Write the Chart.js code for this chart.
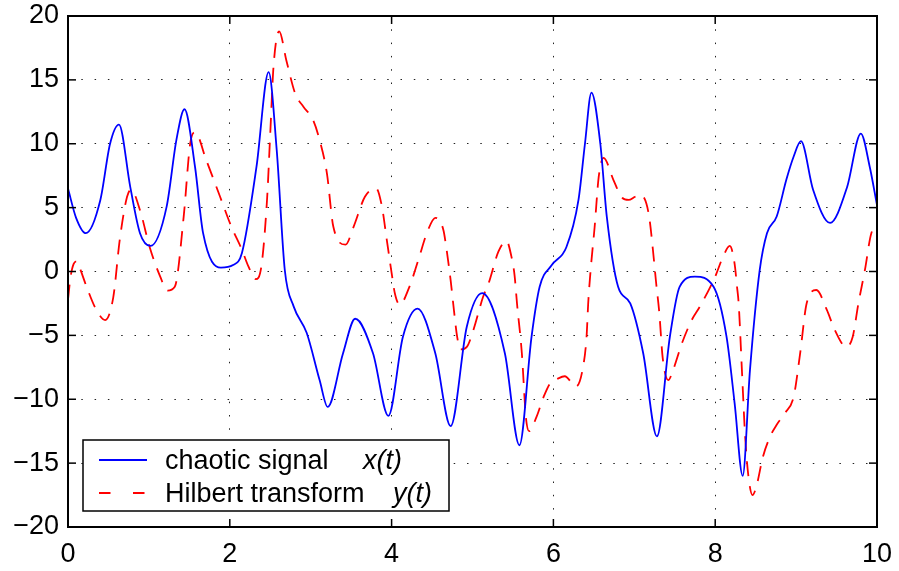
<!DOCTYPE html>
<html>
<head>
<meta charset="utf-8">
<script src="https://cdn.jsdelivr.net/npm/chart.js@4.4.1/dist/chart.umd.min.js"></script>
<style>
    html, body { margin: 0; padding: 0; background: #fff; }
    #wrap { width: 899px; height: 571px; }
</style>
</head>
<body>
<div id="wrap"><canvas id="signalChart" width="899" height="571"></canvas></div>
<script>
// ============================================
// CHAOTIC SIGNAL + HILBERT TRANSFORM
// ============================================

const xTicks = [0, 2, 4, 6, 8, 10];
const yTicks = [-20, -15, -10, -5, 0, 5, 10, 15, 20];

// chaotic signal x(t)
const signalTimes = [0, 0.1, 0.22, 0.4, 0.52, 0.63, 0.77, 0.89, 1.02, 1.22, 1.34, 1.44, 1.57, 1.67, 1.89, 2.04, 2.15, 2.33, 2.48, 2.58, 2.68, 2.79, 2.95, 3.11, 3.21, 3.4, 3.55, 3.77, 3.96, 4.14, 4.32, 4.54, 4.73, 4.93, 5.12, 5.4, 5.58, 5.73, 5.83, 5.98, 6.16, 6.31, 6.39, 6.47, 6.58, 6.66, 6.8, 6.95, 7.11, 7.28, 7.44, 7.56, 7.75, 7.98, 8.14, 8.24, 8.34, 8.43, 8.55, 8.64, 8.76, 8.88, 8.97, 9.06, 9.21, 9.42, 9.63, 9.8, 9.91, 10];
const signalValues = [6.5, 4.2, 3.0, 5.6, 10.0, 11.5, 6.6, 3.0, 2.0, 5.1, 10.3, 12.7, 8.2, 3.0, 0.3, 0.5, 1.45, 8.2, 15.6, 9.5, 0.1, -2.75, -4.8, -8.5, -10.6, -6.4, -3.7, -6.4, -11.3, -5.1, -2.9, -6.4, -12.1, -4.3, -1.7, -6.4, -13.6, -5.1, -1.2, 0.5, 1.9, 5.6, 10.0, 14.0, 10.0, 4.3, -1.2, -2.5, -6.4, -12.9, -5.1, -1.2, -0.4, -1.2, -5.1, -10.3, -16.0, -7.7, 0.1, 3.0, 4.3, 7.2, 9.0, 10.2, 6.4, 3.8, 6.6, 10.8, 8.2, 5.2];

// Hilbert transform y(t)
const hilbertTimes = [0, 0.03, 0.07, 0.11, 0.15, 0.23, 0.35, 0.46, 0.56, 0.64, 0.73, 0.78, 0.89, 1.01, 1.14, 1.23, 1.32, 1.43, 1.51, 1.57, 1.71, 1.88, 2.02, 2.15, 2.23, 2.32, 2.39, 2.46, 2.5, 2.54, 2.61, 2.7, 2.81, 2.91, 3.03, 3.11, 3.2, 3.28, 3.43, 3.53, 3.67, 3.81, 3.88, 3.94, 4.0, 4.04, 4.1, 4.22, 4.33, 4.45, 4.54, 4.64, 4.68, 4.73, 4.77, 4.81, 4.85, 4.93, 5.01, 5.13, 5.2, 5.32, 5.42, 5.48, 5.52, 5.55, 5.61, 5.66, 5.7, 5.79, 5.88, 5.96, 6.05, 6.14, 6.28, 6.36, 6.41, 6.43, 6.46, 6.51, 6.56, 6.62, 6.74, 6.84, 6.93, 7.01, 7.08, 7.15, 7.19, 7.23, 7.27, 7.31, 7.35, 7.42, 7.48, 7.59, 7.71, 7.81, 7.94, 8.0, 8.1, 8.18, 8.24, 8.27, 8.29, 8.33, 8.37, 8.41, 8.46, 8.51, 8.59, 8.68, 8.76, 8.86, 8.97, 9.05, 9.13, 9.25, 9.38, 9.48, 9.62, 9.7, 9.77, 9.85, 9.93, 10];
const hilbertValues = [-2.2, -0.5, 0.6, 0.8, 0.2, -1.2, -3.0, -3.8, -2.0, 2.5, 5.85, 6.4, 4.8, 1.9, -0.4, -1.5, -1.2, 4.3, 10.0, 10.9, 8.7, 5.85, 3.5, 1.7, 0.4, -0.6, 0.4, 5.6, 10.8, 16.0, 18.8, 16.5, 13.9, 12.9, 11.85, 10.3, 7.7, 3.5, 2.1, 3.5, 5.85, 6.5, 5.1, 2.5, -0.1, -1.7, -2.6, -1.2, 0.9, 3.25, 4.2, 3.25, 1.7, -0.7, -3.0, -5.1, -6.1, -5.9, -4.6, -2.0, -0.9, 1.55, 2.4, 1.2, -0.3, -2.5, -6.4, -11.4, -12.5, -11.4, -9.8, -8.75, -8.4, -8.2, -9.0, -7.7, -5.1, -2.5, 0.1, 3.5, 7.4, 8.9, 7.2, 5.85, 5.6, 5.85, 6.0, 5.3, 4.0, 1.7, -0.9, -3.3, -6.7, -8.5, -7.7, -5.6, -3.8, -2.75, -1.2, -0.4, 1.2, 2.0, 0.6, -1.2, -2.5, -7.7, -12.9, -16.0, -17.5, -16.8, -14.5, -12.9, -12.0, -11.1, -9.8, -6.4, -2.5, -1.45, -3.0, -4.6, -5.9, -5.1, -2.5, 0.1, 3.0, 3.5];

const FONT = "'Liberation Sans', Arial, Helvetica, sans-serif";

const toPoints = (times, values) => times.map((t, i) => ({ x: t, y: values[i] }));

// frame with inward ticks + boxed legend, like matlab
const framePlugin = {
    id: 'frame',
    afterDraw(chart) {
        const { ctx, chartArea: a, scales } = chart;
        ctx.save();
        ctx.strokeStyle = '#000';
        ctx.lineWidth = 1.5;
        ctx.setLineDash([]);

        const seg = (x1, y1, x2, y2) => { ctx.beginPath(); ctx.moveTo(x1, y1); ctx.lineTo(x2, y2); ctx.stroke(); };

        xTicks.forEach(v => {
            const px = scales.x.getPixelForValue(v);
            seg(px, a.bottom, px, a.bottom - 8);
            seg(px, a.top, px, a.top + 8);
        });
        yTicks.forEach(v => {
            const py = scales.y.getPixelForValue(v);
            seg(a.left, py, a.left + 8, py);
            seg(a.right, py, a.right - 8, py);
        });
        ctx.lineWidth = 2;
        ctx.strokeRect(a.left, a.top, a.right - a.left, a.bottom - a.top);

        // legend box
        const bx = a.left + 15, by = a.bottom - 87, bw = 366, bh = 71;
        ctx.fillStyle = '#fff';
        ctx.fillRect(bx, by, bw, bh);
        ctx.lineWidth = 1.5;
        ctx.strokeRect(bx, by, bw, bh);

        ctx.lineWidth = 1.8;
        ctx.strokeStyle = '#0000ff';
        seg(bx + 16, by + 20, bx + 64, by + 20);
        ctx.strokeStyle = '#ff0000';
        ctx.setLineDash([11.5, 22.5]);
        seg(bx + 16, by + 53, bx + 64, by + 53);
        ctx.setLineDash([]);

        ctx.fillStyle = '#000';
        ctx.textBaseline = 'alphabetic';
        ctx.textAlign = 'left';
        ctx.font = `27px ${FONT}`;
        ctx.fillText('chaotic signal', bx + 82, by + 29);
        ctx.fillText('Hilbert transform', bx + 82, by + 62);
        ctx.font = `italic 27px ${FONT}`;
        ctx.fillText('x(t)', bx + 280, by + 29);
        ctx.fillText('y(t)', bx + 310, by + 62);
        ctx.restore();
    }
};

function buildChart() {
    const ctx = document.getElementById('signalChart').getContext('2d');
    const gridStyle = { color: '#222', lineWidth: 1, drawTicks: false, borderDash: [1.5, 11.8] };

    new Chart(ctx, {
        type: 'line',
        data: {
            datasets: [
                { label: 'chaotic signal x(t)', data: toPoints(signalTimes, signalValues), borderColor: '#0000ff', borderWidth: 1.8, pointRadius: 0, cubicInterpolationMode: 'monotone', fill: false },
                { label: 'Hilbert transform y(t)', data: toPoints(hilbertTimes, hilbertValues), borderColor: '#ff0000', borderWidth: 1.8, borderDash: [15, 10], pointRadius: 0, cubicInterpolationMode: 'monotone', fill: false }
            ]
        },
        options: {
            responsive: false,
            animation: false,
            devicePixelRatio: 1,
            layout: { padding: { left: 0, right: 22, top: 16, bottom: 0 } },
            plugins: { legend: { display: false }, tooltip: { enabled: false } },
            scales: {
                x: {
                    type: 'linear', min: 0, max: 10,
                    afterBuildTicks: s => { s.ticks = xTicks.map(v => ({ value: v })); },
                    afterFit: s => { s.height = 44; s.paddingLeft = 0; s.paddingRight = 0; },
                    grid: gridStyle,
                    border: { display: false, dash: [1.5, 11.8] },
                    ticks: { color: '#000', padding: 11, maxRotation: 0, font: { family: FONT, size: 27 } }
                },
                y: {
                    type: 'linear', min: -20, max: 20,
                    afterBuildTicks: s => { s.ticks = yTicks.map(v => ({ value: v })); },
                    afterFit: s => { s.width = 68; s.paddingTop = 0; s.paddingBottom = 0; },
                    grid: gridStyle,
                    border: { display: false, dash: [1.5, 11.8] },
                    ticks: { color: '#000', padding: 9, font: { family: FONT, size: 27 }, callback: v => String(v).replace('-', '\u2212') }
                }
            }
        },
        plugins: [framePlugin]
    });
}

document.addEventListener('DOMContentLoaded', buildChart);
</script>
</body>
</html>
